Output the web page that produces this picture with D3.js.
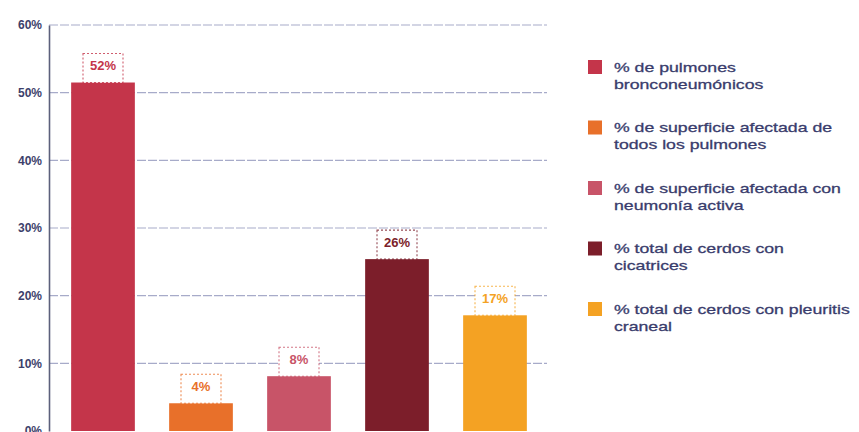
<!DOCTYPE html>
<html>
<head>
<meta charset="utf-8">
<script src="https://cdn.jsdelivr.net/npm/d3@7/dist/d3.min.js"></script>
<style>
  html, body { margin: 0; padding: 0; background: #ffffff; }
  svg { display: block; }
</style>
</head>
<body>
<svg id="chart" width="859" height="432"></svg>
<script>
// ---- data ----
const categories = [
  "% de pulmones bronconeumónicos",
  "% de superficie afectada de todos los pulmones",
  "% de superficie afectada con neumonía activa",
  "% total de cerdos con cicatrices",
  "% total de cerdos con pleuritis craneal"
];
const legendLines = [
  ["% de pulmones", "bronconeumónicos"],
  ["% de superficie afectada de", "todos los pulmones"],
  ["% de superficie afectada con", "neumonía activa"],
  ["% total de cerdos con", "cicatrices"],
  ["% total de cerdos con pleuritis", "craneal"]
];
const values = [51.5, 4.1, 8.1, 25.4, 17.1];
const valueLabels = ["52%", "4%", "8%", "26%", "17%"];
const colors = ["#c4354a", "#e8702a", "#c85468", "#7c1e2a", "#f4a223"];
const yTicks = [0, 10, 20, 30, 40, 50, 60];

// ---- layout ----
const svg = d3.select("#chart");
const axisX = 49, plotRight = 547;
const y = d3.scaleLinear().domain([0, 60]).range([431, 25]);
const x = d3.scaleBand().domain(categories).range([54, 544])
  .paddingInner(0.35).paddingOuter(0.175);

// gridlines
svg.append("g").selectAll("line").data(yTicks.filter(d => d > 0)).join("line")
  .attr("x1", axisX).attr("x2", plotRight)
  .attr("y1", d => y(d)).attr("y2", d => y(d))
  .attr("stroke", "#a7abc9").attr("stroke-width", 1.2)
  .attr("stroke-dasharray", "9,2");

// y axis
const yAxis = d3.axisLeft(y).tickValues(yTicks).tickFormat(d => d + "%").tickSize(0).tickPadding(7);
const gy = svg.append("g").attr("transform", `translate(${axisX},0)`).call(yAxis);
gy.select(".domain").attr("stroke", "#5c607c").attr("stroke-width", 1.6);
gy.selectAll("text").attr("fill", "#3d3f6b").attr("font-family", "Liberation Sans, Arial, sans-serif")
  .attr("font-size", "12px").attr("font-weight", "bold");

// bars
svg.append("g").selectAll("rect").data(values).join("rect")
  .attr("x", (d, i) => x(categories[i]))
  .attr("width", x.bandwidth())
  .attr("y", d => y(d))
  .attr("height", d => y(0) - y(d))
  .attr("fill", (d, i) => colors[i]);

// value label boxes
const lab = svg.append("g").selectAll("g").data(values).join("g")
  .attr("transform", (d, i) => `translate(${x(categories[i]) + x.bandwidth() / 2},${y(d)})`);
lab.append("rect")
  .attr("x", -20).attr("y", -29).attr("width", 40).attr("height", 29)
  .attr("fill", "#ffffff")
  .attr("stroke", (d, i) => colors[i]).attr("stroke-opacity", 0.8)
  .attr("stroke-width", 1.1).attr("stroke-dasharray", "2,2");
lab.append("text")
  .attr("y", -16).attr("text-anchor", "middle").attr("dominant-baseline", "middle")
  .attr("font-family", "Liberation Sans, Arial, sans-serif").attr("font-size", "13px")
  .attr("font-weight", "bold")
  .attr("fill", (d, i) => colors[i])
  .text((d, i) => valueLabels[i]);

// legend
const legY = d3.scalePoint().domain(categories).range([68, 310]);
const leg = svg.append("g").selectAll("g").data(categories).join("g")
  .attr("transform", d => `translate(588,${legY(d)})`);
leg.append("rect").attr("x", 0).attr("y", -8).attr("width", 14).attr("height", 14)
  .attr("fill", (d, i) => colors[i]);
const lt = leg.append("text")
  .attr("transform", "translate(26,0) scale(1.31,1)")
  .attr("font-family", "Liberation Sans, Arial, sans-serif").attr("font-size", "13.5px")
  .attr("fill", "#393c6c").attr("stroke", "#393c6c").attr("stroke-width", 0.3);
lt.selectAll("tspan").data((d, i) => legendLines[i]).join("tspan")
  .attr("x", 0).attr("y", (d, j) => j * 17)
  .attr("dominant-baseline", "middle")
  .text(d => d);
</script>
</body>
</html>
